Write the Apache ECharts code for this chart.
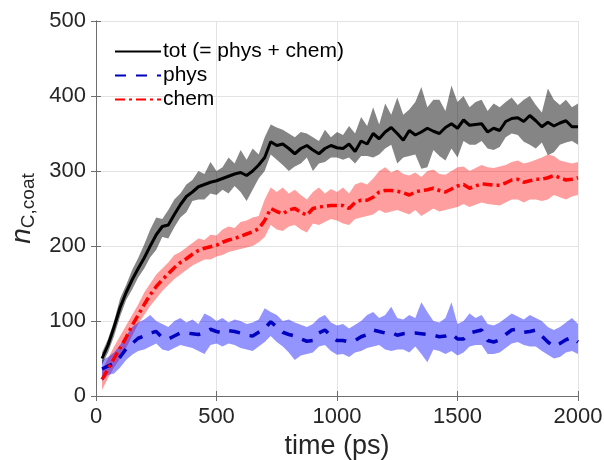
<!DOCTYPE html>
<html>
<head>
<meta charset="utf-8">
<script src="https://cdn.jsdelivr.net/npm/echarts@6/dist/echarts.min.js"></script>
<style>
html, body { margin: 0; padding: 0; background: #fff; }
#main { width: 604px; height: 460px; }
</style>
</head>
<body>
<div id="main"></div>
<script>
// time (ps)
var time = [25, 50, 75, 100, 125, 150, 175, 200, 225, 250, 275, 300, 325, 350, 375, 400, 425, 450, 475, 500,
    525, 550, 575, 600, 625, 650, 675, 700, 725, 750, 775, 800, 825, 850, 875, 900, 925, 950, 975, 1000,
    1025, 1050, 1075, 1100, 1125, 1150, 1175, 1200, 1225, 1250, 1275, 1300, 1325, 1350, 1375, 1400, 1425, 1450, 1475, 1500,
    1525, 1550, 1575, 1600, 1625, 1650, 1675, 1700, 1725, 1750, 1775, 1800, 1825, 1850, 1875, 1900, 1925, 1950, 1975, 2000];

// tot (= phys + chem)
var totMean = [50, 68, 92, 118, 138, 155, 170, 184, 200, 215, 226, 228, 242, 255, 266, 272, 279, 282, 285, 287,
    290, 293, 296, 298, 294, 300, 308, 318, 339, 334, 336, 330, 323, 330, 334, 328, 323, 330, 334, 331,
    330, 336, 326, 340, 336, 350, 343, 352, 358, 350, 341, 354, 348, 352, 357, 353, 350, 358, 363, 357,
    368, 361, 362, 363, 352, 357, 354, 366, 370, 371, 366, 374, 367, 359, 365, 360, 364, 367, 359, 359];
var totUpper = [58, 76, 100, 130, 148, 168, 184, 202, 222, 238, 236, 248, 262, 270, 282, 288, 300, 296, 312, 300,
    305, 318, 310, 328, 315, 330, 322, 345, 362, 358, 355, 350, 345, 352, 350, 345, 340, 355, 345, 352,
    348, 360, 350, 372, 360, 385, 362, 390, 375, 398, 375, 382, 392, 412, 385, 395, 395, 380, 414, 392,
    400, 385, 392, 395, 380, 390, 385, 392, 398, 388, 395, 400, 388, 378, 410, 395, 388, 395, 385, 390];
var totLower = [42, 58, 80, 106, 128, 142, 158, 170, 185, 195, 212, 210, 225, 238, 245, 260, 262, 262, 270, 268,
    275, 270, 280, 272, 260, 275, 290, 300, 322, 315, 308, 300, 306, 310, 318, 300, 310, 312, 318, 318,
    315, 318, 310, 320, 320, 318, 322, 330, 335, 310, 318, 320, 322, 303, 305, 328, 320, 314, 330, 318,
    340, 335, 335, 340, 330, 328, 332, 345, 350, 348, 339, 335, 330, 338, 321, 325, 335, 338, 340, 335];

// phys
var physMean = [36, 40, 43, 52, 63, 70, 77, 80, 84, 86, 78, 76, 80, 84, 84, 83, 82, 85, 89, 86,
    84, 87, 86, 84, 81, 80, 85, 90, 99, 92, 85, 82, 80, 76, 73, 74, 84, 88, 80, 74,
    74, 72, 74, 79, 82, 88, 86, 84, 85, 81, 83, 84, 84, 83, 82, 81, 79, 80, 83, 76,
    76, 84, 86, 88, 74, 72, 75, 82, 88, 89, 85, 86, 88, 80, 72, 66, 70, 75, 78, 72];
var physUpper = [48, 52, 58, 68, 80, 92, 98, 102, 108, 100, 96, 92, 100, 104, 98, 102, 96, 110, 106, 100,
    104, 98, 102, 100, 96, 98, 102, 117, 112, 108, 100, 102, 98, 95, 92, 96, 104, 108, 98, 94,
    96, 90, 95, 100, 108, 112, 104, 108, 119, 104, 102, 108, 104, 125, 112, 100, 98, 104, 125, 96,
    100, 110, 104, 108, 96, 94, 98, 104, 110, 106, 102, 108, 104, 100, 92, 88, 92, 98, 104, 96];
var physLower = [20, 28, 30, 38, 48, 55, 60, 62, 66, 70, 62, 60, 64, 68, 66, 64, 60, 56, 68, 70,
    66, 70, 68, 64, 62, 60, 66, 72, 80, 72, 66, 58, 48, 54, 56, 58, 66, 68, 60, 55,
    56, 52, 58, 60, 64, 66, 68, 62, 60, 62, 62, 58, 66, 56, 45, 62, 60, 56, 60, 54,
    58, 66, 68, 68, 56, 56, 58, 64, 70, 72, 68, 66, 66, 60, 55, 50, 52, 58, 60, 56];

// chem
var chemMean = [22, 36, 50, 64, 78, 94, 108, 122, 135, 146, 155, 163, 171, 178, 183, 189, 194, 197, 199, 201,
    205, 208, 210, 213, 216, 219, 223, 234, 250, 246, 243, 248, 250, 245, 241, 250, 252, 253, 254, 254,
    254, 250, 258, 261, 261, 265, 272, 274, 274, 273, 271, 268, 272, 274, 275, 277, 274, 272, 276, 280,
    282, 277, 280, 283, 282, 281, 281, 284, 288, 289, 285, 287, 289, 289, 291, 294, 291, 288, 289, 291];
var chemUpper = [35, 50, 66, 80, 94, 108, 122, 138, 150, 162, 170, 178, 188, 192, 198, 204, 210, 208, 215, 214,
    222, 226, 224, 232, 234, 238, 240, 262, 278, 272, 278, 270, 275, 268, 262, 272, 278, 270, 276, 272,
    278, 270, 282, 285, 282, 290, 300, 305, 298, 302, 296, 294, 298, 292, 300, 302, 296, 295, 300, 305,
    306, 300, 304, 308, 305, 304, 306, 308, 312, 314, 310, 312, 315, 318, 322, 320, 314, 312, 310, 312];
var chemLower = [8, 24, 38, 50, 64, 80, 96, 108, 120, 130, 140, 148, 156, 162, 168, 174, 178, 182, 182, 186,
    188, 192, 194, 196, 198, 200, 205, 212, 228, 222, 220, 226, 228, 222, 218, 230, 228, 232, 236, 234,
    230, 228, 236, 238, 240, 242, 248, 244, 246, 248, 245, 242, 248, 240, 245, 250, 246, 248, 250, 252,
    256, 252, 255, 258, 256, 255, 254, 258, 262, 262, 258, 262, 262, 260, 262, 268, 265, 262, 266, 268];

var xTicks = [0, 500, 1000, 1500, 2000];
var yTicks = [0, 100, 200, 300, 400, 500];

function pairs(ys) {
    return time.map(function (t, i) { return [t, ys[i]]; });
}

// shaded band: one polygon through upper (forward) and lower (backward), placed with api.coord
function band(name, up, lo, color) {
    return {
        name: name, type: 'custom', silent: true, z: 1,
        data: [[time[0], lo[0]]],
        renderItem: function (params, api) {
            var pts = [];
            for (var i = 0; i < time.length; i++) pts.push(api.coord([time[i], up[i]]));
            for (var j = time.length - 1; j >= 0; j--) pts.push(api.coord([time[j], lo[j]]));
            return {type: 'polygon', shape: {points: pts}, style: {fill: color}};
        }
    };
}

var font = 'Liberation Sans, Arial, sans-serif';
var axisGray = '#6e6e6e';
var textColor = '#262626';

var series = [
    band('chemB', chemUpper, chemLower, 'rgba(255,0,0,0.38)'),
    band('physB', physUpper, physLower, 'rgba(0,0,255,0.42)'),
    band('totB', totUpper, totLower, 'rgba(0,0,0,0.48)'),
    {
        name: 'tot (= phys + chem)', type: 'line', symbol: 'none', data: pairs(totMean), z: 5,
        lineStyle: {color: '#000', width: 3}, itemStyle: {color: '#000'}
    }, {
        name: 'phys', type: 'line', symbol: 'none', data: pairs(physMean), z: 5,
        lineStyle: {color: '#0000c0', width: 3.5, type: [11, 10]}, itemStyle: {color: '#0000ff'}
    }, {
        name: 'chem', type: 'line', symbol: 'none', data: pairs(chemMean), z: 5,
        lineStyle: {color: '#ff0000', width: 3.5, type: [10, 4, 3, 4]}, itemStyle: {color: '#ff0000'}
    }
];

function plain(v) { return String(v); }

var option = {
    animation: false,
    backgroundColor: '#fff',
    grid: {left: 96, top: 21, right: 26, bottom: 64, show: false, containLabel: false, outerBoundsMode: 'none'},
    legend: {
        data: ['tot (= phys + chem)', 'phys', 'chem'],
        orient: 'vertical', left: 114, top: 41, itemGap: 3,
        itemWidth: 46, itemHeight: 22, padding: 0,
        itemStyle: {opacity: 0},
        textStyle: {fontSize: 21, color: '#000', fontFamily: font, padding: [0, 0, 0, -3]}
    },
    xAxis: [{
        type: 'value', min: 0, max: 2000, interval: 500,
        name: 'time (ps)', nameLocation: 'middle', nameGap: 34,
        nameTextStyle: {fontSize: 27, color: textColor, fontFamily: font},
        axisLine: {show: true, lineStyle: {color: axisGray}},
        axisTick: {inside: true, length: 5, lineStyle: {color: axisGray}},
        axisLabel: {fontSize: 22, color: textColor, fontFamily: font, margin: 10, formatter: plain},
        splitLine: {show: true, lineStyle: {color: '#e3e3e3'}}
    }, {
        type: 'value', min: 0, max: 2000, interval: 500, position: 'top',
        axisLine: {show: true, lineStyle: {color: axisGray}},
        axisTick: {inside: true, length: 5, lineStyle: {color: axisGray}},
        axisLabel: {show: false}, splitLine: {show: false}
    }],
    yAxis: [{
        type: 'value', min: 0, max: 500, interval: 100,
        name: '{i|n}{s|C,coat}', nameLocation: 'middle', nameGap: 52, nameRotate: 90,
        nameTextStyle: {
            color: textColor, fontFamily: font,
            rich: {
                i: {fontSize: 28, fontStyle: 'italic', color: textColor, fontFamily: font},
                s: {fontSize: 19, color: textColor, fontFamily: font, padding: [14, 0, 0, 0]}
            }
        },
        axisLine: {show: true, lineStyle: {color: axisGray}},
        axisTick: {inside: true, length: 5, lineStyle: {color: axisGray}},
        axisLabel: {fontSize: 22, color: textColor, fontFamily: font, margin: 10, formatter: plain},
        splitLine: {show: true, lineStyle: {color: '#e3e3e3'}}
    }, {
        type: 'value', min: 0, max: 500, interval: 100, position: 'right',
        axisLine: {show: true, lineStyle: {color: axisGray}},
        axisTick: {inside: true, length: 5, lineStyle: {color: axisGray}},
        axisLabel: {show: false}, splitLine: {show: false}
    }],
    series: series
};

var myChart = echarts.init(document.getElementById('main'));
myChart.setOption(option);
</script>
</body>
</html>
